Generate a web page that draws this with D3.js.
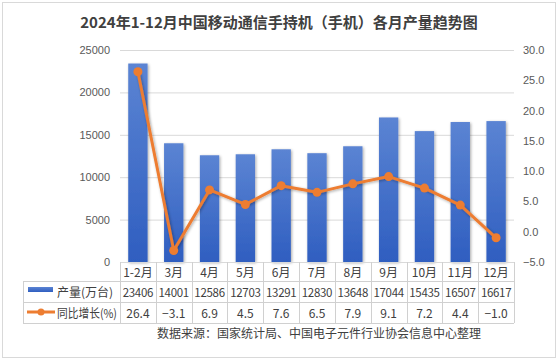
<!DOCTYPE html>
<html><head><meta charset="utf-8">
<script src="https://cdn.jsdelivr.net/npm/d3@7/dist/d3.min.js"></script>
<style>
body{margin:0;background:#fff;}
svg{display:block;font-family:"Noto Sans CJK SC","Noto Sans",sans-serif;}
</style></head><body>
<svg id="c" width="558" height="363"></svg>
<script>
const categories = ["1-2月","3月","4月","5月","6月","7月","8月","9月","10月","11月","12月"];
const output = [23406,14001,12586,12703,13291,12830,13648,17044,15435,16507,16617];
const growth = [26.4,-3.1,6.9,4.5,7.6,6.5,7.9,9.1,7.2,4.4,-1.0];
const leftTicks = [0,5000,10000,15000,20000,25000];
const rightTicks = [-5,0,5,10,15,20,25,30];
const seriesNames = ["产量(万台)","同比增长(%)"];
const title = "2024年1-12月中国移动通信手持机（手机）各月产量趋势图";
const source = "数据来源：国家统计局、中国电子元件行业协会信息中心整理";

const svg = d3.select("#c");
const L = 120, R = 514, T = 50, B = 262;
const x = d3.scaleBand().domain(categories).range([L, R]).paddingInner(0.46).paddingOuter(0.23);
const band = d3.scaleBand().domain(categories).range([L, R]);
const yL = d3.scaleLinear().domain([0,25000]).range([B,T]);
const yR = d3.scaleLinear().domain([-5,30]).range([B,T]);

// border
svg.append("rect").attr("x",2.5).attr("y",2.5).attr("width",553).attr("height",355)
  .attr("fill","#fff").attr("stroke","#d9d9d9");

// defs
const defs = svg.append("defs");
const g = defs.append("linearGradient").attr("id","bg").attr("x1",0).attr("y1",0).attr("x2",0).attr("y2",1);
g.append("stop").attr("offset","0%").attr("stop-color","#5b84d3");
g.append("stop").attr("offset","100%").attr("stop-color","#2f5ec0");
const f = defs.append("filter").attr("id","sh").attr("x","-30%").attr("y","-10%").attr("width","160%").attr("height","120%");
f.append("feGaussianBlur").attr("in","SourceAlpha").attr("stdDeviation",1.5).attr("result","b");
f.append("feOffset").attr("in","b").attr("dx",1).attr("dy",1).attr("result","o");
f.append("feComponentTransfer").attr("in","o").attr("result","o2").append("feFuncA").attr("type","linear").attr("slope",0.35);
const fm = f.append("feMerge"); fm.append("feMergeNode").attr("in","o2"); fm.append("feMergeNode").attr("in","SourceGraphic");

// title
svg.append("text").attr("x",279).attr("y",28).attr("text-anchor","middle")
  .attr("font-size",15).attr("font-weight","bold").attr("fill","#404040").text(title);

// gridlines
svg.append("g").selectAll("line").data(leftTicks.filter(d=>d>0)).join("line")
  .attr("x1",L).attr("x2",R).attr("y1",d=>yL(d)+0.5).attr("y2",d=>yL(d)+0.5)
  .attr("stroke","#d9d9d9");

// left axis
const axL = d3.axisLeft(yL).tickValues(leftTicks).tickSize(0).tickPadding(10).tickFormat(d3.format("d"));
const gL = svg.append("g").attr("transform",`translate(${L},0)`).call(axL);
gL.select(".domain").remove();
gL.selectAll("text").attr("font-size",11).attr("fill","#595959").attr("font-family","Liberation Sans, Arial, sans-serif");

// right axis
const axR = d3.axisRight(yR).tickValues(rightTicks).tickSize(0).tickPadding(9).tickFormat(d3.format(".1f"));
const gR = svg.append("g").attr("transform",`translate(${R},0)`).call(axR);
gR.select(".domain").remove();
gR.selectAll("text").attr("font-size",11).attr("fill","#595959").attr("font-family","Liberation Sans, Arial, sans-serif");

// bars
svg.append("g").selectAll("rect").data(output).join("rect")
  .attr("x",(d,i)=>x(categories[i])).attr("width",x.bandwidth())
  .attr("y",d=>yL(d)).attr("height",d=>B-yL(d))
  .attr("fill","url(#bg)").attr("filter","url(#sh)");

// baseline
svg.append("line").attr("x1",L).attr("x2",R).attr("y1",B+0.5).attr("y2",B+0.5).attr("stroke","#d9d9d9");

// line
const cx = i => band(categories[i]) + band.bandwidth()/2;
const line = d3.line().x((d,i)=>cx(i)).y(d=>yR(d));
svg.append("path").datum(growth).attr("d",line).attr("fill","none")
  .attr("stroke","#ed7d31").attr("stroke-width",3).attr("stroke-linejoin","round").attr("filter","url(#sh)");
svg.append("g").selectAll("circle").data(growth).join("circle")
  .attr("cx",(d,i)=>cx(i)).attr("cy",d=>yR(d)).attr("r",4.5).attr("fill","#ed7d31");

// data table
const rowY = [262, 281, 302, 323];
const tableLeft = 23;
const tg = svg.append("g");
const stroke = "#d0d0d0";
tg.append("line").attr("x1",tableLeft).attr("x2",R).attr("y1",rowY[1]+0.5).attr("y2",rowY[1]+0.5).attr("stroke",stroke);
tg.append("line").attr("x1",tableLeft).attr("x2",R).attr("y1",rowY[2]+0.5).attr("y2",rowY[2]+0.5).attr("stroke",stroke);
tg.append("line").attr("x1",tableLeft).attr("x2",R).attr("y1",rowY[3]+0.5).attr("y2",rowY[3]+0.5).attr("stroke",stroke);
const vx = categories.map(c=>band(c)).concat([R]);
tg.selectAll("line.v").data(vx).join("line").attr("class","v")
  .attr("x1",d=>Math.round(d)+0.5).attr("x2",d=>Math.round(d)+0.5).attr("y1",rowY[0]).attr("y2",rowY[3]).attr("stroke",stroke);
tg.append("line").attr("x1",tableLeft+0.5).attr("x2",tableLeft+0.5).attr("y1",rowY[1]).attr("y2",rowY[3]).attr("stroke",stroke);

const txt = (sel)=>sel.attr("font-size",12).attr("fill","#404040").attr("text-anchor","middle");
tg.selectAll("text.cat").data(categories).join("text").attr("class","cat")
  .attr("x",(d,i)=>cx(i)).attr("y",277).text(d=>d).call(txt);
tg.selectAll("text.o").data(output).join("text").attr("class","o")
  .attr("x",(d,i)=>cx(i)).attr("y",297).text(d=>d).call(txt).attr("font-size",11.5).attr("letter-spacing",-0.3);
tg.selectAll("text.g").data(growth).join("text").attr("class","g")
  .attr("x",(d,i)=>cx(i)).attr("y",318).text(d=>d3.format(".1f")(d)).call(txt);

// legend keys
tg.append("rect").attr("x",28).attr("y",287).attr("width",25).attr("height",5).attr("fill","url(#bg)");
tg.append("text").attr("x",57).attr("y",297).attr("font-size",12).attr("fill","#404040").text(seriesNames[0]);
tg.append("line").attr("x1",27).attr("x2",55).attr("y1",312).attr("y2",312).attr("stroke","#ed7d31").attr("stroke-width",3);
tg.append("circle").attr("cx",41).attr("cy",312).attr("r",3.5).attr("fill","#ed7d31");
tg.append("text").attr("x",57).attr("y",318).attr("font-size",12).attr("fill","#404040")
  .attr("textLength",60).attr("lengthAdjust","spacingAndGlyphs").text(seriesNames[1]);

// source
svg.append("text").attr("x",157).attr("y",338).attr("font-size",12).attr("fill","#404040").text(source);
</script>
</body></html>
